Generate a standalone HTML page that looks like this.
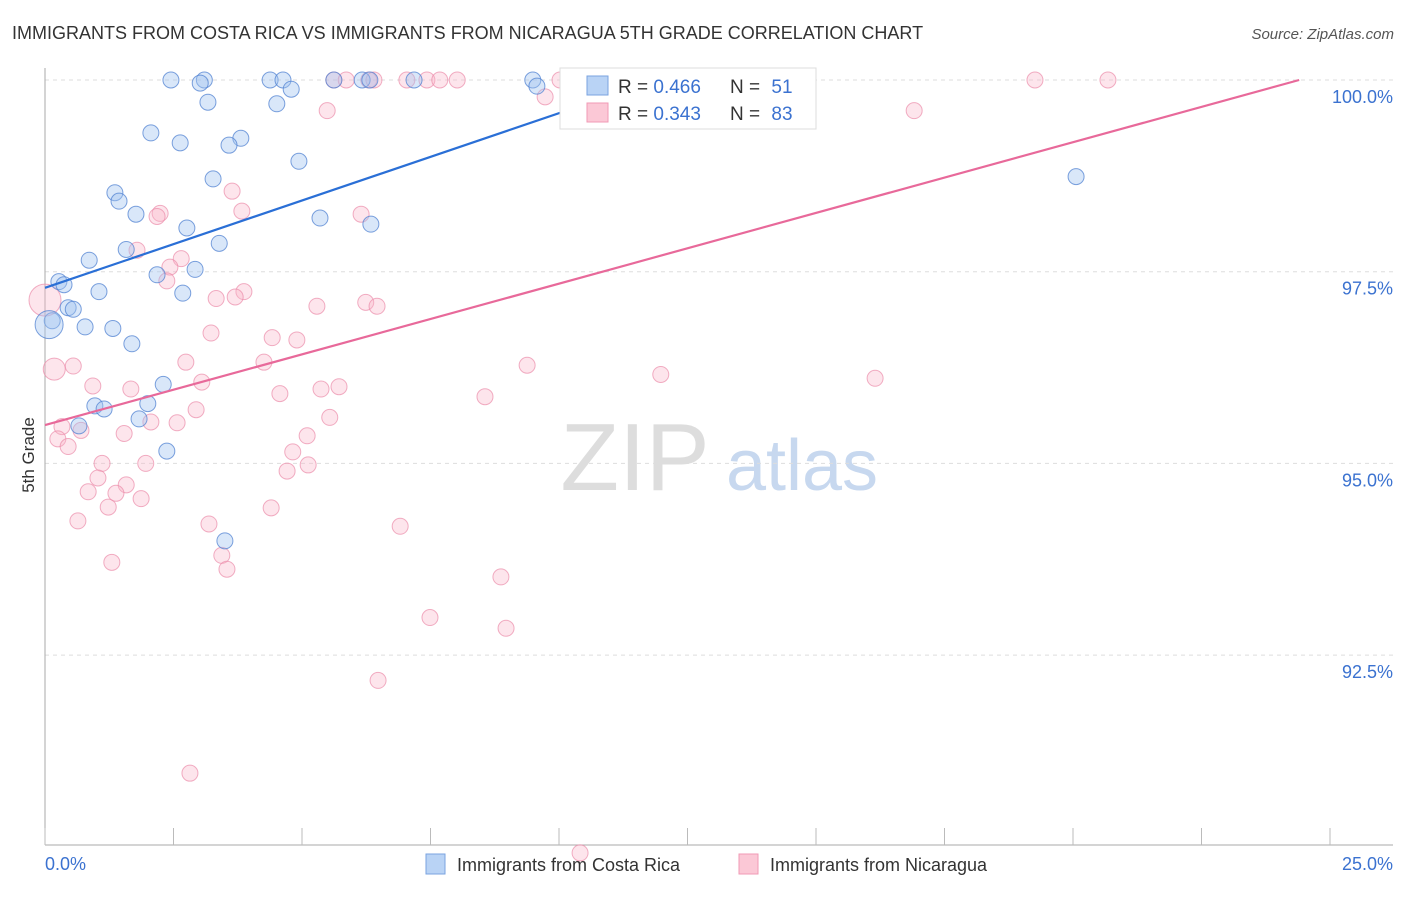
<!DOCTYPE html>
<html><head><meta charset="utf-8"><style>
body{margin:0;background:#fff;font-family:"Liberation Sans",sans-serif;}
svg text{font-family:"Liberation Sans",sans-serif;}
</style></head><body>
<svg id="chart" width="1406" height="892" xmlns="http://www.w3.org/2000/svg">
<text x="12" y="39" font-size="18" fill="#333">IMMIGRANTS FROM COSTA RICA VS IMMIGRANTS FROM NICARAGUA 5TH GRADE CORRELATION CHART</text>
<text x="1394" y="39" font-size="15" fill="#555" text-anchor="end" font-style="italic">Source: ZipAtlas.com</text>
<text transform="translate(34,455) rotate(-90)" font-size="17" fill="#333" text-anchor="middle">5th Grade</text>
<g>
<text x="635" y="490" font-size="96" fill="#ddd" text-anchor="middle" font-family="Liberation Serif">ZIP</text>
<text x="802" y="490" font-size="72" fill="#c7d8ef" text-anchor="middle">atlas</text>
</g>
<g id="grid"></g>
<g id="axes"></g>
<g id="points"></g>
<g id="lines"></g>
<g>
<rect x="560" y="68" width="256" height="61" fill="#fff" stroke="#ddd"/>
<rect x="587" y="76" width="21" height="19" fill="#b9d3f5" stroke="#7aa3e0"/>
<rect x="587" y="103" width="21" height="19" fill="#fbc8d6" stroke="#f09ab5"/>
<text x="618" y="93" font-size="19" fill="#333">R = <tspan fill="#3b72d0">0.466</tspan></text>
<text x="730" y="93" font-size="19" fill="#333">N = <tspan fill="#3b72d0" dx="6">51</tspan></text>
<text x="618" y="120" font-size="19" fill="#333">R = <tspan fill="#3b72d0">0.343</tspan></text>
<text x="730" y="120" font-size="19" fill="#333">N = <tspan fill="#3b72d0" dx="6">83</tspan></text>
</g>
<g>
<rect x="426" y="854" width="19" height="20" fill="#b9d3f5" stroke="#7aa3e0"/>
<text x="457" y="871" font-size="18" fill="#333">Immigrants from Costa Rica</text>
<rect x="739" y="854" width="19" height="20" fill="#fbc8d6" stroke="#f09ab5"/>
<text x="770" y="871" font-size="18" fill="#333">Immigrants from Nicaragua</text>
</g>
</svg>
<script>
const xTicks=[0,2.5,5,7.5,10,12.5,15,17.5,20,22.5,25];
const yTicks=[100,97.5,95,92.5];
const yTickLabels=["100.0%","97.5%","95.0%","92.5%"];
const blueX=[2.45,3.1,3.02,4.38,4.63,4.79,5.62,6.17,6.32,7.18,9.49,9.57,3.17,4.51,2.06,2.63,3.81,3.58,4.94,3.27,1.36,1.44,1.77,5.35,6.34,2.76,3.39,1.58,0.86,2.92,2.18,0.27,0.37,1.05,2.68,0.45,0.55,0.14,0.08,0.78,1.32,1.69,2.3,0.97,1.15,2.0,1.83,0.66,2.37,3.5,20.06];
const blueY=[100,100,99.96,100,100,99.88,100,100,100,100,100,99.92,99.71,99.69,99.31,99.18,99.24,99.15,98.94,98.71,98.53,98.42,98.25,98.2,98.12,98.07,97.87,97.79,97.65,97.53,97.46,97.37,97.33,97.24,97.22,97.03,97.01,96.86,96.81,96.78,96.76,96.56,96.03,95.75,95.71,95.78,95.58,95.49,95.16,93.99,98.74];
const blueR=[8,8,8,8,8,8,8,8,8,8,8,8,8,8,8,8,8,8,8,8,8,8,8,8,8,8,8,8,8,8,8,8,8,8,8,8,8,8,14,8,8,8,8,8,8,8,8,8,8,8,8];
const pinkX=[5.62,5.86,6.3,6.4,7.04,7.43,7.68,8.02,10.02,19.26,20.68,9.73,5.49,16.91,3.64,3.83,2.24,2.18,6.15,1.79,2.65,2.43,2.37,3.87,3.33,3.7,5.29,6.24,6.46,0.0,3.23,4.42,4.9,4.26,2.74,0.18,0.55,9.38,11.98,16.15,0.93,1.67,3.05,5.37,5.72,4.57,8.56,2.94,2.06,5.54,0.33,0.7,2.57,1.54,0.25,0.45,5.1,4.82,1.96,1.11,5.12,4.71,1.03,1.58,0.84,1.38,1.87,1.23,4.4,0.64,3.19,6.91,3.44,1.3,3.54,8.87,7.49,8.97,6.48,2.82,10.41];
const pinkY=[100,100,100,100,100,100,100,100,100,100,100,99.78,99.6,99.6,98.55,98.29,98.26,98.22,98.25,97.78,97.67,97.56,97.38,97.24,97.15,97.17,97.05,97.1,97.05,97.13,96.7,96.64,96.61,96.32,96.32,96.23,96.27,96.28,96.16,96.11,96.01,95.97,96.06,95.97,96.0,95.91,95.87,95.7,95.54,95.6,95.48,95.43,95.53,95.39,95.32,95.22,95.36,95.15,95.0,95.0,94.98,94.9,94.81,94.72,94.63,94.61,94.54,94.43,94.42,94.25,94.21,94.18,93.8,93.71,93.62,93.52,92.99,92.85,92.17,90.96,89.92];
const pinkR=[8,8,8,8,8,8,8,8,8,8,8,8,8,8,8,8,8,8,8,8,8,8,8,8,8,8,8,8,8,16,8,8,8,8,8,11,8,8,8,8,8,8,8,8,8,8,8,8,8,8,8,8,8,8,8,8,8,8,8,8,8,8,8,8,8,8,8,8,8,8,8,8,8,8,8,8,8,8,8,8,8];
const blueTrend=[[0,97.29],[11.9,100]];
const pinkTrend=[[0,95.5],[24.4,100]];
const NS="http://www.w3.org/2000/svg";
const X=v=>45+v/25*1285;
const Y=v=>80+(100-v)/2.5*191.7;
function mk(tag,attrs,parent){const e=document.createElementNS(NS,tag);for(const k in attrs)e.setAttribute(k,attrs[k]);parent.appendChild(e);return e;}
const grid=document.getElementById('grid'),axes=document.getElementById('axes');
yTicks.forEach((t,i)=>{
 const l=mk('line',{x1:45,x2:1393,y1:Y(t),y2:Y(t),stroke:'#ddd','stroke-dasharray':'4,4'},grid);
 
 
 const tx=mk('text',{x:1393,y:Y(t)+23,'font-size':18,fill:'#3b72d0','text-anchor':'end'},axes);
 tx.textContent=yTickLabels[i];
 
 
});
const ya=mk('line',{x1:45,x2:45,y1:68,y2:845,stroke:'#aaa'},axes);


const xa=mk('line',{x1:45,x2:1393,y1:845,y2:845,stroke:'#aaa'},axes);


xTicks.forEach(t=>{
 const l=mk('line',{x1:X(t),x2:X(t),y1:828,y2:845,stroke:'#bbb'},axes);
 
 
});
const x0=mk('text',{x:45,y:870,'font-size':18,fill:'#3b72d0'},axes);x0.textContent=xTicks[0].toFixed(1)+'%';


const x1=mk('text',{x:1393,y:870,'font-size':18,fill:'#3b72d0','text-anchor':'end'},axes);x1.textContent=xTicks[xTicks.length-1].toFixed(1)+'%';


const pts=document.getElementById('points');
pinkX.forEach((v,i)=>{
 const c=mk('circle',{cx:X(v),cy:Y(pinkY[i]),r:pinkR[i],fill:'rgba(248,180,200,0.35)',stroke:'rgba(235,140,170,0.7)','stroke-width':1},pts);
 
 
});
blueX.forEach((v,i)=>{
 const c=mk('circle',{cx:X(v),cy:Y(blueY[i]),r:blueR[i],fill:'rgba(160,195,240,0.4)',stroke:'rgba(80,130,210,0.75)','stroke-width':1},pts);
 
 
});
const lines=document.getElementById('lines');
const bl=mk('line',{x1:X(blueTrend[0][0]),y1:Y(blueTrend[0][1]),x2:X(blueTrend[1][0]),y2:Y(blueTrend[1][1]),stroke:'#2a6fd6','stroke-width':2.2},lines);


const pl=mk('line',{x1:X(pinkTrend[0][0]),y1:Y(pinkTrend[0][1]),x2:X(pinkTrend[1][0]),y2:Y(pinkTrend[1][1]),stroke:'#e8699a','stroke-width':2.2},lines);


</script>
</body></html>
